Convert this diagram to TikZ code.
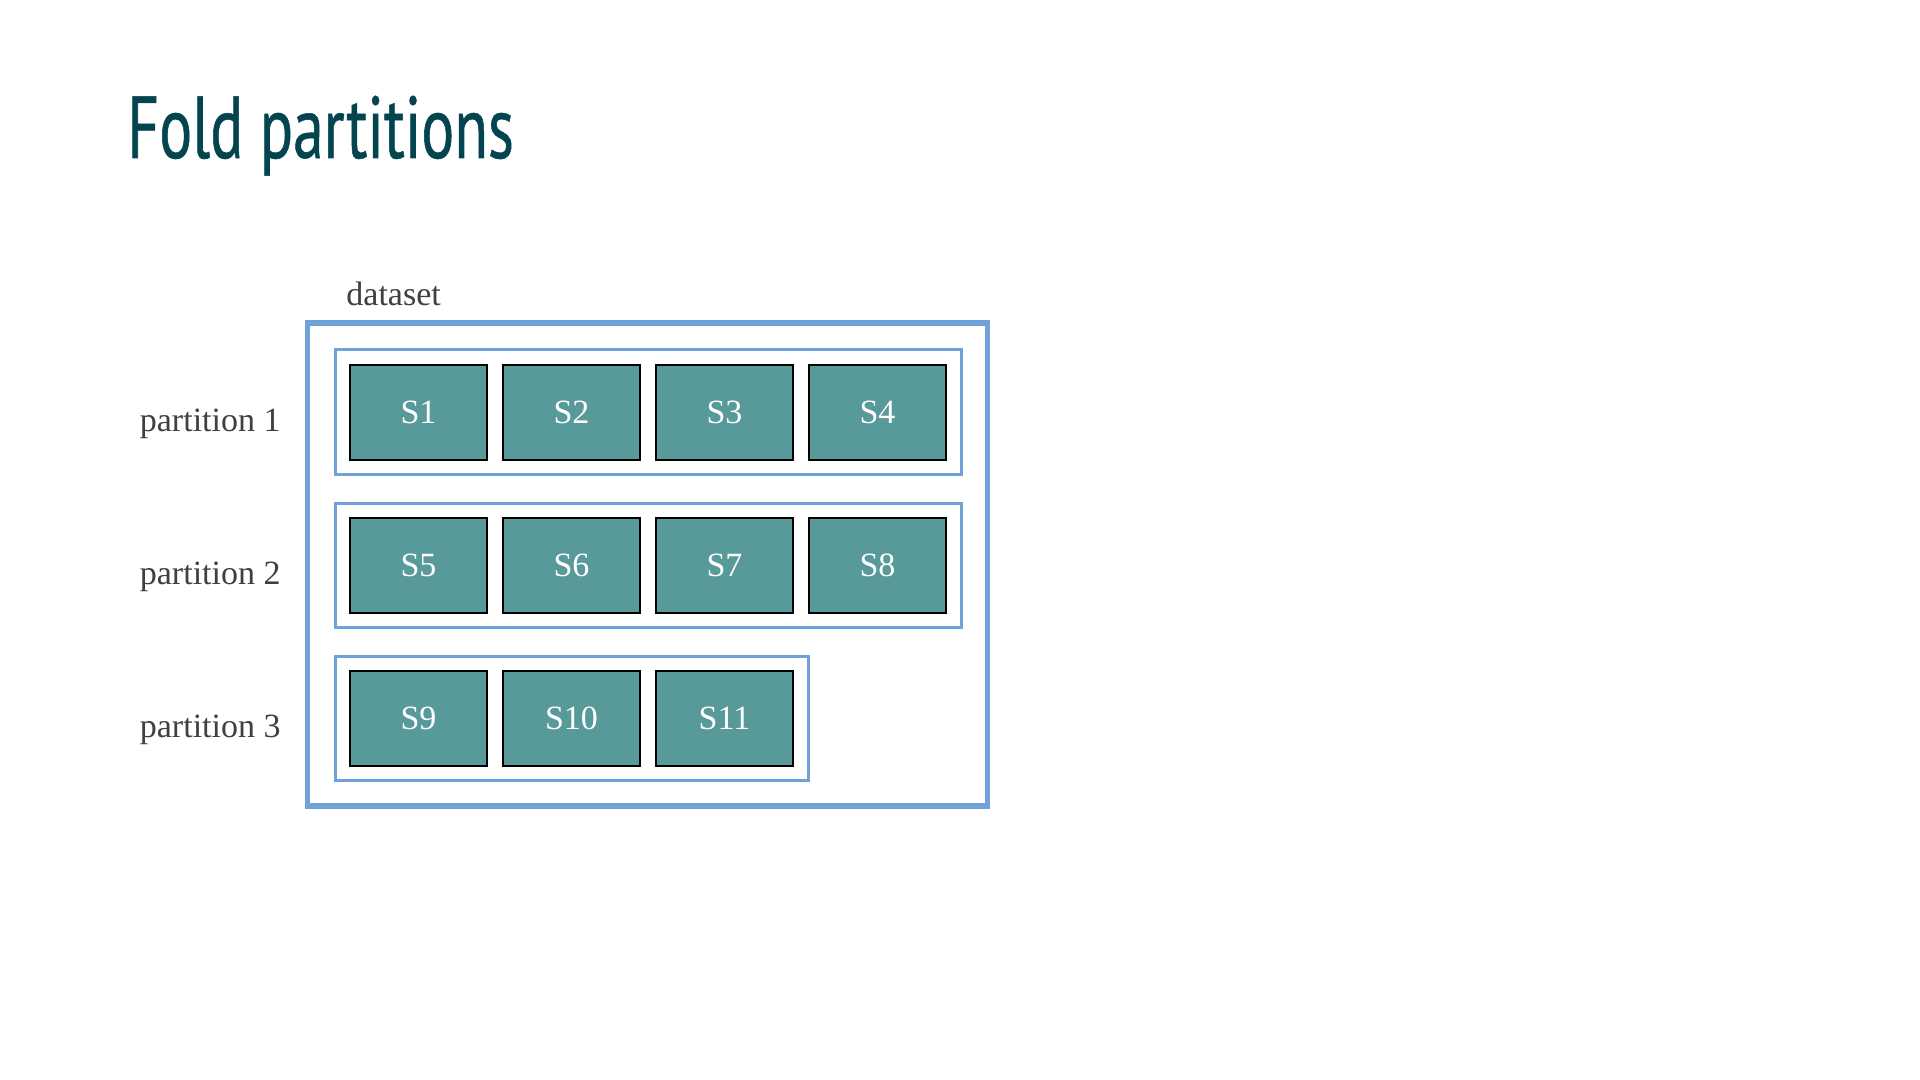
\documentclass[tikz,border=0pt]{standalone}
\usepackage{fontspec}
\setmainfont{Liberation Serif}
\newfontfamily\headfont[FakeStretch=0.7, FakeBold=0.6]{PT Sans}
\definecolor{headteal}{HTML}{03444F}
\definecolor{boxblue}{HTML}{6FA2D8}
\definecolor{samplefill}{HTML}{579A99}
\definecolor{labelgray}{HTML}{404040}
\tikzset{
	sample/.style={draw=black, line width=0.9pt, fill=samplefill, text=white, minimum width=68.5pt, minimum height=47.5pt, inner sep=0pt, font=\fontsize{17}{20}\selectfont},
	partbox/.style={draw=boxblue, line width=1.5pt, minimum height=62pt, inner sep=0pt},
	lbl/.style={text=labelgray, inner sep=0pt, font=\fontsize{17}{20}\selectfont}
}
\begin{document}
\begin{tikzpicture}
	[x=0.5pt, y=-0.5pt]
	\useasboundingbox (0,0) rectangle (1920,1080);
	\node[anchor=base west, inner sep=0pt, text=headteal, font=\headfont\fontsize{44}{50}\selectfont] (title) at (127,158) {Fold partitions};
	\node[draw=boxblue, line width=2.8pt, minimum width=340pt, minimum height=241.5pt, inner sep=0pt] (dset) at (647.5,564.5) {};
	\node[lbl, anchor=base west] (dsetlbl) at (346,306) {dataset};
	\node[partbox, minimum width=313pt] (p1) at (648,412) {};
	\node[partbox, minimum width=313pt] (p2) at (648,565) {};
	\node[partbox, minimum width=236.5pt] (p3) at (571.5,718) {};
	\node[lbl, anchor=base east] (l1) at (281,431) {partition 1};
	\node[lbl, anchor=base east] (l2) at (281,584) {partition 2};
	\node[lbl, anchor=base east] (l3) at (281,737) {partition 3};
	\foreach \n [count=\i from 0] in {1,...,11} {
		\pgfmathtruncatemacro{\col}{mod(\i,4)}
		\pgfmathtruncatemacro{\row}{div(\i,4)}
		\node[sample] (s\n) at ({418.5+153*\col},{412.5+153*\row}) {S\n};
	}
\end{tikzpicture}
\end{document}
